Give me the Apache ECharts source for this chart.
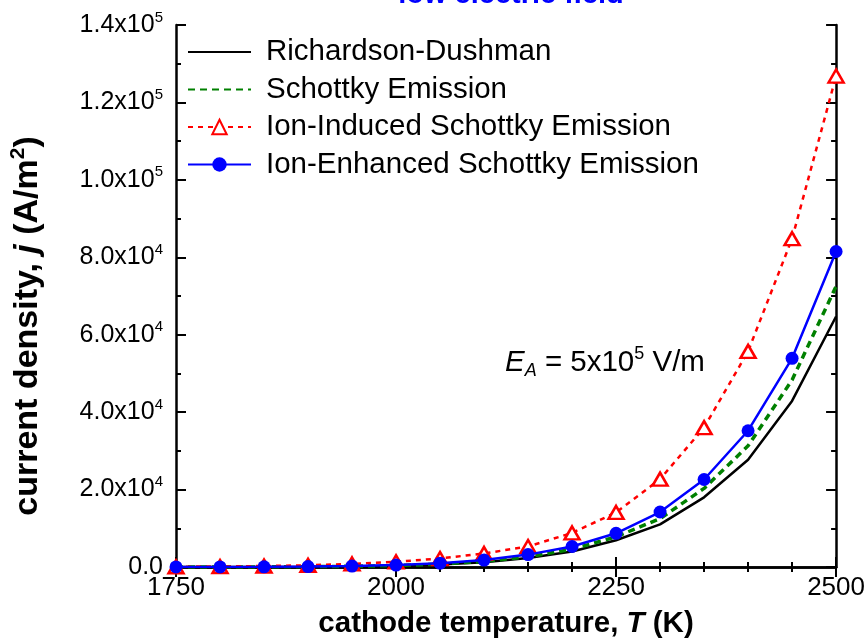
<!DOCTYPE html>
<html>
<head>
<meta charset="utf-8">
<script src="https://cdn.jsdelivr.net/npm/echarts@6/dist/echarts.min.js"></script>
<style>
  html, body { margin: 0; padding: 0; background: #fff; }
  #chart { width: 868px; height: 644px; }
</style>
</head>
<body>
<div id="chart"></div>
<script>
// Cathode temperature (K)
const temperature = [1750, 1800, 1850, 1900, 1950, 2000, 2050, 2100, 2150, 2200, 2250, 2300, 2350, 2400, 2450, 2500];

// Current density j (A/m^2) for each emission model
const richardsonDushman = [5, 12, 30, 70, 160, 330, 650, 1250, 2300, 4000, 6900, 11000, 18000, 27700, 42900, 64700];
const schottky          = [6, 14, 35, 80, 180, 380, 750, 1450, 2600, 4600, 7800, 12500, 20300, 31300, 48300, 72500];
const ionInduced        = [70, 130, 250, 450, 800, 1350, 2200, 3500, 5300, 8800, 14100, 22700, 36000, 55700, 84800, 126800];
const ionEnhanced       = [8, 20, 50, 120, 250, 500, 1000, 1800, 3200, 5300, 8700, 14200, 22600, 35200, 53900, 81500];

const seriesNames = ['Richardson-Dushman', 'Schottky Emission', 'Ion-Induced Schottky Emission', 'Ion-Enhanced Schottky Emission'];

// Axis ranges
const xRange = { min: 1750, max: 2500, step: 250 };
const yRange = { min: 0, max: 140000, step: 20000 };

const FONT = '"Liberation Sans", Arial, sans-serif';

function pairs(ys) { return temperature.map((t, i) => [t, ys[i]]); }

// "2.0x10^4" style labels with a raised exponent
function sciLabel(v) {
  if (v === 0) return '{m|0.0}';
  const e = Math.floor(Math.log10(v) + 1e-9);
  const m = (v / Math.pow(10, e)).toFixed(1);
  return '{m|' + m + 'x10}{s|' + e + '}';
}

const chart = echarts.init(document.getElementById('chart'), null, { renderer: 'canvas' });

const axisLine = { show: true, lineStyle: { color: '#000', width: 2.5 } };
const axisTick = { show: true, inside: true, length: 10, lineStyle: { color: '#000', width: 2 } };
const minorTick = { show: true, length: 5, lineStyle: { color: '#000', width: 2 } };

const option = {
  backgroundColor: '#fff',
  animation: false,
  title: {
    text: 'low electric field',
    left: 506,
    textAlign: 'center',
    top: -25,
    textStyle: { color: '#0000FF', fontFamily: FONT, fontWeight: 'bold', fontSize: 29 }
  },
  grid: { left: 174, right: 30, top: 25, bottom: 74 },
  legend: {
    orient: 'vertical',
    left: 187,
    top: 37,
    padding: 0,
    itemWidth: 63,
    itemHeight: 18,
    itemGap: 7.5,
    data: seriesNames,
    textStyle: { fontFamily: FONT, fontSize: 29.5, color: '#000', padding: [0, 0, 0, 10], lineHeight: 30 }
  },
  xAxis: [
    {
      type: 'value', position: 'bottom',
      min: xRange.min, max: xRange.max, interval: xRange.step,
      axisLine, axisTick, minorTick: Object.assign({ splitNumber: 5 }, minorTick),
      splitLine: { show: false },
      axisLabel: { show: true, margin: 8, fontFamily: FONT, fontSize: 26, color: '#000', formatter: v => String(v) },
      name: 'cathode temperature, {i|T} (K)',
      nameLocation: 'middle',
      nameGap: 42,
      nameTextStyle: {
        fontFamily: FONT, fontSize: 29.5, fontWeight: 'bold', color: '#000',
        rich: { i: { fontFamily: FONT, fontSize: 29.5, fontWeight: 'bold', fontStyle: 'italic', color: '#000' } }
      }
    },
    {
      type: 'value', position: 'top',
      min: xRange.min, max: xRange.max, interval: xRange.step,
      axisLine, axisTick, minorTick: Object.assign({ splitNumber: 5 }, minorTick),
      splitLine: { show: false },
      axisLabel: { show: false }
    }
  ],
  yAxis: [
    {
      type: 'value', position: 'left',
      min: yRange.min, max: yRange.max, interval: yRange.step,
      axisLine, axisTick, minorTick: Object.assign({ splitNumber: 2 }, minorTick),
      splitLine: { show: false },
      axisLabel: {
        show: true, margin: 13, formatter: sciLabel,
        rich: {
          m: { fontFamily: FONT, fontSize: 25, color: '#000' },
          s: { fontFamily: FONT, fontSize: 15, color: '#000', padding: [0, 0, 15, 0] }
        }
      },
      name: 'current density, {i|j} (A/m{s|2})',
      nameLocation: 'middle',
      nameRotate: 90,
      nameGap: 129,
      nameTextStyle: {
        fontFamily: FONT, fontSize: 34, fontWeight: 'bold', color: '#000',
        padding: [0, 60, 0, 0],
        rich: {
          i: { fontFamily: FONT, fontSize: 34, fontWeight: 'bold', fontStyle: 'italic', color: '#000' },
          s: { fontFamily: FONT, fontSize: 21, fontWeight: 'bold', color: '#000', padding: [0, 0, 18, 0] }
        }
      }
    },
    {
      type: 'value', position: 'right',
      min: yRange.min, max: yRange.max, interval: yRange.step,
      axisLine, axisTick, minorTick: Object.assign({ splitNumber: 2 }, minorTick),
      splitLine: { show: false },
      axisLabel: { show: false }
    }
  ],
  graphic: [
    {
      type: 'text',
      left: 505,
      top: 345,
      style: {
        text: '{e|E}{sub|A}{t| = 5x10}{sup|5}{t| V/m}',
        rich: {
          e: { fontFamily: FONT, fontSize: 29.5, fontStyle: 'italic', fill: '#000' },
          sub: { fontFamily: FONT, fontSize: 18, fontStyle: 'italic', fill: '#000', padding: [17, 0, 0, 0] },
          t: { fontFamily: FONT, fontSize: 29.5, fill: '#000' },
          sup: { fontFamily: FONT, fontSize: 18, fill: '#000', padding: [0, 0, 17, 0] }
        }
      }
    }
  ],
  series: [
    {
      name: seriesNames[0], type: 'line', data: pairs(richardsonDushman),
      symbol: 'none', z: 2,
      lineStyle: { color: '#000', width: 2.5 },
      itemStyle: { color: '#000', opacity: 0 }
    },
    {
      name: seriesNames[1], type: 'line', data: pairs(schottky),
      symbol: 'none', z: 3,
      lineStyle: { color: '#008000', width: 3.5, type: [7, 5] },
      itemStyle: { color: '#008000', opacity: 0 }
    },
    {
      name: seriesNames[2], type: 'line', data: pairs(ionInduced),
      symbol: 'triangle', symbolSize: [15, 13], showAllSymbol: true, z: 4,
      lineStyle: { color: '#FF0000', width: 2.5, type: [5, 5] },
      itemStyle: { color: '#fff', borderColor: '#FF0000', borderWidth: 2.5 }
    },
    {
      name: seriesNames[3], type: 'line', data: pairs(ionEnhanced),
      symbol: 'circle', symbolSize: 13, showAllSymbol: true, z: 5,
      lineStyle: { color: '#0000FF', width: 2.5 },
      itemStyle: { color: '#0000FF' }
    }
  ]
};

chart.setOption(option);
</script>
</body>
</html>
